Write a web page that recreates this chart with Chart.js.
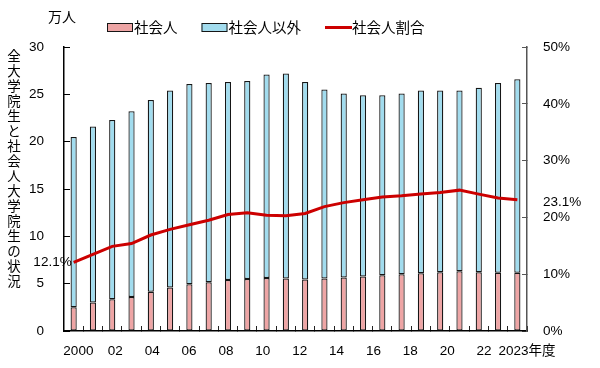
<!DOCTYPE html>
<html><head><meta charset="utf-8">
<script src="https://cdn.jsdelivr.net/npm/chart.js@4.4.1/dist/chart.umd.min.js"></script>
<style>html,body{margin:0;padding:0;background:#fff}#wrap{width:600px;height:368px;position:relative}</style>
</head><body><div id="wrap"><canvas id="c" width="600" height="368"></canvas></div>
<script>
// ---- data ----
const years = [2000,2001,2002,2003,2004,2005,2006,2007,2008,2009,2010,2011,2012,2013,2014,2015,2016,2017,2018,2019,2020,2021,2022,2023];
// 社会人 (万人)
const shakaijin = [2.5,3.0,3.35,3.6,4.15,4.6,4.95,5.15,5.4,5.5,5.6,5.55,5.45,5.55,5.65,5.75,5.9,6.0,6.1,6.2,6.3,6.2,6.15,6.15];
// 社会人以外 (万人)
const shakaijinIgai = [18.0,18.6,18.95,19.6,20.25,20.8,21.15,21.05,20.9,20.9,21.5,21.65,20.85,19.95,19.45,19.15,19.0,19.1,19.3,19.2,19.1,19.5,20.05,20.45];
// 社会人割合 (%)
const shakaijinRatio = [12.1,13.5,14.9,15.4,16.9,17.9,18.7,19.5,20.5,20.8,20.4,20.3,20.7,21.9,22.6,23.1,23.6,23.8,24.1,24.4,24.8,24.1,23.4,23.1];
// x tick labels (every other year, last one with unit)
const xTickLabels = ['2000','02','04','06','08','10','12','14','16','18','20','22','2023年度'];
const seriesNames = ['社会人','社会人以外','社会人割合'];
const yTitle = '全大学院生と社会人大学院生の状況';
const yUnit = '万人';

const NUM = "'Liberation Sans', 'Noto Sans CJK JP', sans-serif";
const JP = "'Noto Sans CJK JP', sans-serif";
const PINK = '#eea5a5', BLUE = '#a2dcee', RED = '#cc0000', EDGE = '#161616';

const decor = {
  id: 'decor',
  afterDraw(chart) {
    const ctx = chart.ctx, ca = chart.chartArea;
    ctx.save();
    // unit
    ctx.fillStyle = '#000';
    ctx.font = '14px ' + JP;
    ctx.textAlign = 'center'; ctx.textBaseline = 'middle';
    ctx.fillText(yUnit, 62, 17);
    // vertical title
    ctx.font = '13.5px ' + JP;
    [...yTitle].forEach((ch, i) => ctx.fillText(ch, 14, 56 + i * 15));
    // legend
    ctx.font = '14.5px ' + JP;
    ctx.textAlign = 'left';
    let x = 107; const ly = 27.5;
    const items = [
      {t: seriesNames[0], kind: 'box', c: PINK},
      {t: seriesNames[1], kind: 'box', c: BLUE},
      {t: seriesNames[2], kind: 'line', c: RED}
    ];
    items.forEach(it => {
      if (it.kind === 'box') {
        ctx.fillStyle = it.c; ctx.fillRect(x, ly - 4.5, 26, 9);
        ctx.strokeStyle = EDGE; ctx.lineWidth = 1; ctx.strokeRect(x + 0.5, ly - 4, 25, 8);
      } else {
        ctx.strokeStyle = it.c; ctx.lineWidth = 3;
        ctx.beginPath(); ctx.moveTo(x, ly); ctx.lineTo(x + 27, ly); ctx.stroke();
      }
      ctx.fillStyle = '#000';
      const tx = x + 27;
      ctx.fillText(it.t, tx, ly);
      x = tx + ctx.measureText(it.t).width + 24;
    });
    // data labels on ratio line
    const meta = chart.getDatasetMeta(0);
    const p0 = meta.data[0], pN = meta.data[meta.data.length - 1];
    ctx.font = '13.5px ' + NUM;
    ctx.textAlign = 'right';
    ctx.fillText(shakaijinRatio[0].toFixed(1) + '%', p0.x - 2, p0.y);
    ctx.textAlign = 'left';
    ctx.fillText(shakaijinRatio[shakaijinRatio.length - 1].toFixed(1) + '%', ca.right + 16, pN.y + 2);
    ctx.restore();
  }
};

const barStyle = {borderColor: EDGE, borderWidth: 1.25, borderSkipped: false, stack: 's', order: 1, barPercentage: 0.32, categoryPercentage: 1};

new Chart(document.getElementById('c'), {
  type: 'bar',
  data: {
    labels: years.map(String),
    datasets: [
      {type: 'line', label: seriesNames[2], data: shakaijinRatio, yAxisID: 'y1', borderColor: RED, borderWidth: 3, pointRadius: 0, tension: 0, order: 0},
      Object.assign({label: seriesNames[0], data: shakaijin, backgroundColor: PINK}, barStyle),
      Object.assign({label: seriesNames[1], data: shakaijinIgai, backgroundColor: BLUE}, barStyle)
    ]
  },
  options: {
    responsive: false, animation: false,
    layout: {padding: {top: 47, left: 0, right: 0, bottom: 0}},
    plugins: {legend: {display: false}, tooltip: {enabled: false}},
    scales: {
      x: {
        stacked: true, offset: true,
        grid: {drawOnChartArea: false, offset: true, tickLength: -5, color: '#222', lineWidth: 1},
        border: {color: '#000', width: 1.5},
        ticks: {display: false},
        afterFit(s) { s.height = 0; }
      },
      xl: {
        type: 'linear', position: 'bottom', min: 1999.22, max: 2024.33, offset: false,
        grid: {display: false, drawTicks: false, offset: false},
        border: {display: false},
        ticks: {autoSkip: false, maxRotation: 0, padding: 12, color: '#000', font: {family: NUM, size: 13.5},
          callback: (v, i) => xTickLabels[i]},
        afterBuildTicks(s) {
          const t = years.filter((y, i) => i % 2 === 0).map(y => ({value: y}));
          t.push({value: s.max});
          s.ticks = t;
        },
        afterFit(s) { s.height = 37; }
      },
      y: {
        stacked: true, min: 0, max: 30,
        ticks: {stepSize: 5, padding: 26, color: '#000', font: {family: NUM, size: 13.5}},
        grid: {drawOnChartArea: false, tickLength: -6, color: '#000'},
        border: {color: '#000', width: 1.5},
        afterFit(s) { s.width = 64; }
      },
      y1: {
        position: 'right', min: 0, max: 50,
        ticks: {stepSize: 10, padding: 21, color: '#000', font: {family: NUM, size: 13.5}, callback: v => v + '%'},
        grid: {drawOnChartArea: false, tickLength: -5, color: '#555'},
        border: {color: '#555', width: 1.5},
        afterFit(s) { s.width = 73; }
      }
    }
  },
  plugins: [decor]
});
</script>
</body></html>
